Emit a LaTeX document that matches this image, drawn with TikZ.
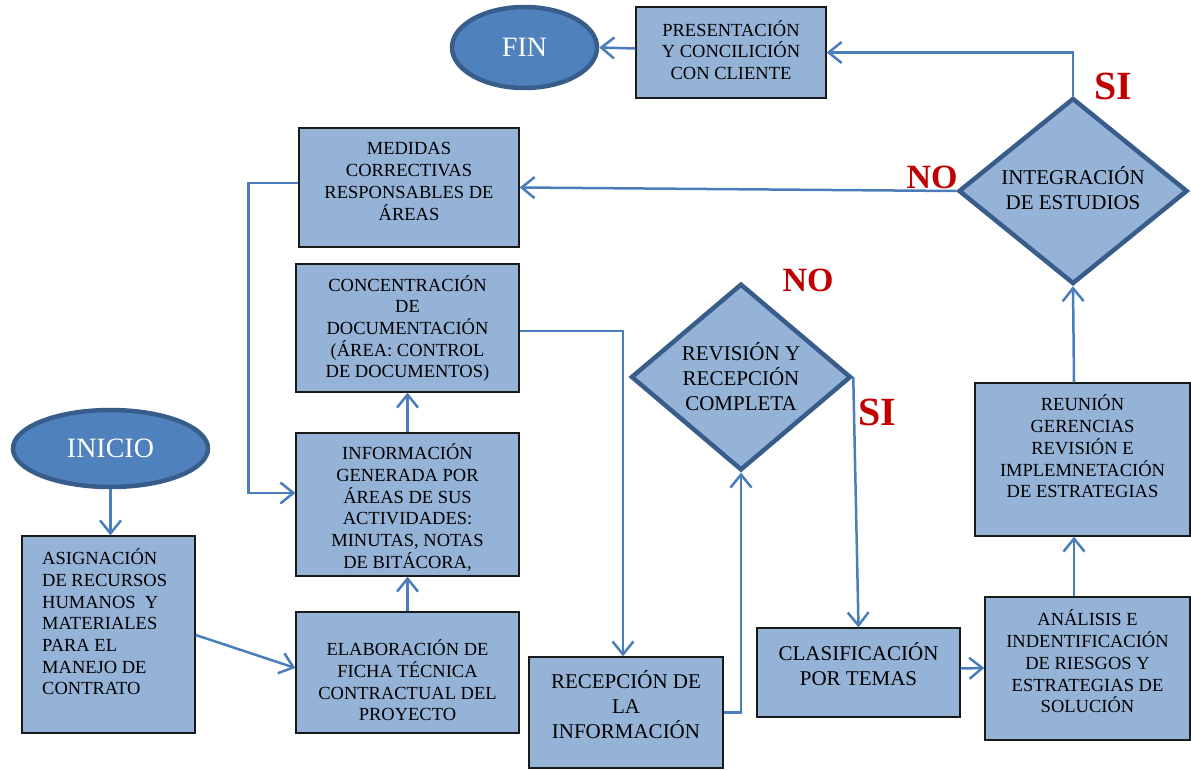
\documentclass[tikz,border=0pt]{standalone}
\usepackage{fontspec}
\setmainfont{Liberation Serif}
\usetikzlibrary{shapes.geometric,arrows.meta,calc}
\definecolor{boxfill}{HTML}{95B3D7}
\definecolor{ellfill}{HTML}{4F81BD}
\definecolor{edgecol}{HTML}{385D8A}
\definecolor{conncol}{HTML}{4A7EBB}
\definecolor{labred}{HTML}{C00000}
\begin{document}
\begin{tikzpicture}[x=1pt,y=-1pt,
 box/.style={rectangle,draw=black!90,line width=1.3pt,fill=boxfill,inner sep=0pt},
 txt/.style={align=center,font=\fontsize{18.5}{21.7}\selectfont,inner sep=0pt},
 bigtxt/.style={align=center,font=\fontsize{21}{25}\selectfont,inner sep=0pt},
 dec/.style={diamond,draw=edgecol,line width=4.5pt,fill=boxfill,inner sep=0pt,align=center,font=\fontsize{21}{25}\selectfont},
 term/.style={ellipse,draw=edgecol,line width=4.5pt,fill=ellfill,inner sep=0pt,text=white,font=\fontsize{28}{30}\selectfont},
 conn/.style={draw=conncol,line width=2.5pt,-{Straight Barb[length=13pt,width=21pt]}},
 yeslab/.style={text=labred,font=\bfseries\fontsize{40}{40}\selectfont,inner sep=0pt},
 nolab/.style={text=labred,font=\bfseries\fontsize{34}{34}\selectfont,inner sep=0pt}]
\useasboundingbox (0,0) rectangle (1191,770);

% terminals
\node[term,minimum width=145,minimum height=81] (fin) at (524.5,47.5) {FIN};
\node[term,minimum width=195,minimum height=77] (inicio) at (110.5,448.5) {INICIO};

% boxes
\node[box,minimum width=190,minimum height=91] (pres) at (731,52.5) {};
\node[txt] (presT) at (731,50) {PRESENTACIÓN\\Y CONCILICIÓN\\CON CLIENTE};

\node[box,minimum width=220,minimum height=119] (medidas) at (409,187.5) {};
\node[txt] (medT) at (409,181.5) {MEDIDAS\\CORRECTIVAS\\RESPONSABLES DE\\ÁREAS};

\node[box,minimum width=223,minimum height=128] (concen) at (407.5,328) {};
\node[txt] (concT) at (407.5,328.5) {CONCENTRACIÓN\\DE\\DOCUMENTACIÓN\\(ÁREA: CONTROL\\DE DOCUMENTOS)};

\node[box,minimum width=223,minimum height=143] (info) at (407.5,504.5) {};
\node[txt] (infoT) at (407.5,507.5) {INFORMACIÓN\\GENERADA POR\\ÁREAS DE SUS\\ACTIVIDADES:\\MINUTAS, NOTAS\\DE BITÁCORA,};

\node[box,minimum width=223,minimum height=121] (elab) at (407.5,672.5) {};
\node[txt] (elabT) at (407.5,680.5) {ELABORACIÓN DE\\FICHA TÉCNICA\\CONTRACTUAL DEL\\PROYECTO};

\node[box,minimum width=173,minimum height=197] (asig) at (108.5,634.5) {};
\node[txt,align=left,anchor=west] (asigT) at (42,622) {ASIGNACIÓN\\DE RECURSOS\\HUMANOS\ \ Y\\MATERIALES\\PARA EL\\MANEJO DE\\CONTRATO};

\node[box,minimum width=194,minimum height=111] (recep) at (626,712.5) {};
\node[bigtxt] (recepT) at (626,705) {RECEPCIÓN DE\\LA\\INFORMACIÓN};

\node[box,minimum width=203,minimum height=89] (clasif) at (858.5,672.5) {};
\node[bigtxt] (clasT) at (858.5,664.5) {CLASIFICACIÓN\\POR TEMAS};

\node[box,minimum width=205,minimum height=143] (anal) at (1087.5,668.5) {};
\node[txt] (analT) at (1087.5,661.5) {ANÁLISIS E\\INDENTIFICACIÓN\\DE RIESGOS Y\\ESTRATEGIAS DE\\SOLUCIÓN};

\node[box,minimum width=215,minimum height=153] (reun) at (1082.5,459.5) {};
\node[txt] (reunT) at (1082.5,446.5) {REUNIÓN\\GERENCIAS\\REVISIÓN E\\IMPLEMNETACIÓN\\DE ESTRATEGIAS};

% decisions
\node[dec,minimum width=229,minimum height=186] (integ) at (1073,191) {};
\node[bigtxt] (integT) at (1073,188.5) {INTEGRACIÓN\\DE ESTUDIOS};
\node[dec,minimum width=220,minimum height=185] (revis) at (741,377) {REVISIÓN Y\\RECEPCIÓN\\COMPLETA};

% labels
\node[nolab] (no1) at (808,280) {NO};
\node[yeslab] (si1) at (877,412) {SI};
\node[yeslab] (si2) at (1113,86) {SI};
\node[nolab] (no2) at (932,177) {NO};

% connectors
\draw[conn] (inicio.south) -- (inicio.south |- asig.north);
\draw[conn] ($(asig.east)+(0,0.5)$) -- ($(elab.west)+(0,-4.5)$);
\draw[conn] (elab.north) -- (info.south);
\draw[conn] (info.north) -- (concen.south);
\draw[conn] ($(concen.east)+(0,3)$) -| ($(recep.north)+(-3,0)$);
\draw[conn] (recep.east) -| (revis.south);
\draw[conn] (revis.east) -- (clasif.north);
\draw[conn] ($(clasif.east)+(0,-4)$) -- ($(anal.west)+(0,-0.5)$);
\draw[conn] ($(anal.north)+(-13.5,0)$) -- ($(reun.south)+(-8.5,0)$);
\draw[conn] ($(reun.north)+(-8.5,0)$) -- (integ.south);
\draw[conn] (integ.north) |- (pres.east);
\draw[conn] ($(pres.west)+(0,-4)$) -- (fin.east);
\draw[conn] (integ.west) -- (medidas.east);
\draw[conn] ($(medidas.west)+(0,-4.5)$) -- ++(-50,0) |- ($(info.west)+(0,-11.5)$);
\end{tikzpicture}
\end{document}
